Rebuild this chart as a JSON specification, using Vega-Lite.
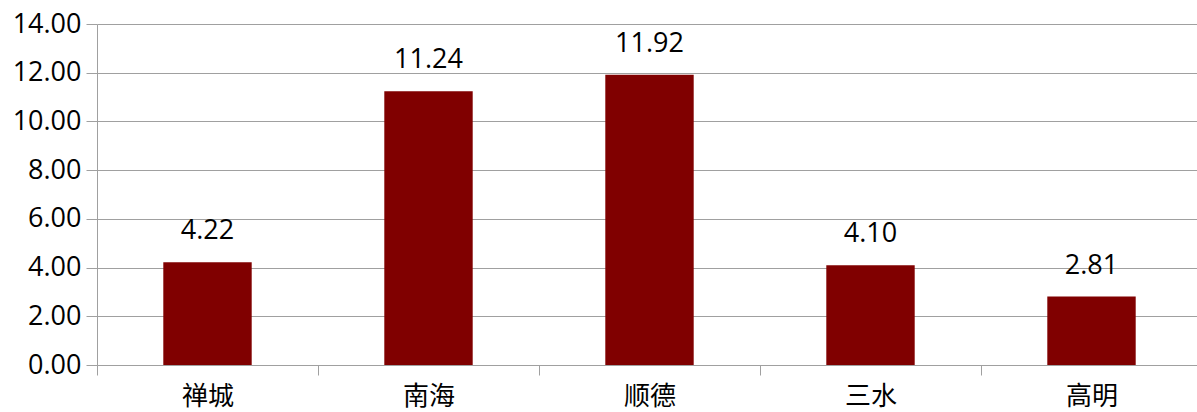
{
  "$schema": "https://vega.github.io/schema/vega-lite/v6.json",
  "autosize": "none",
  "padding": {"left": 97, "top": 24, "right": 0, "bottom": 47},
  "width": 1105,
  "height": 341,
  "background": "white",
  "data": {
    "values": [
      {"区": "禅城", "值": 4.22},
      {"区": "南海", "值": 11.24},
      {"区": "顺德", "值": 11.92},
      {"区": "三水", "值": 4.10},
      {"区": "高明", "值": 2.81}
    ]
  },
  "config": {
    "view": {"stroke": null},
    "axis": {
      "domainColor": "#a0a0a0",
      "tickColor": "#a0a0a0",
      "gridColor": "#a0a0a0",
      "labelColor": "#000000",
      "labelFont": "Open Sans",
      "labelFontSize": 27
    }
  },
  "encoding": {
    "x": {
      "field": "区",
      "type": "nominal",
      "sort": null,
      "scale": {"paddingInner": 0, "paddingOuter": 0},
      "axis": {
        "title": null,
        "labelAngle": 0,
        "tickBand": "extent",
        "tickSize": 10,
        "labelPadding": 8,
        "labelFont": "Noto Sans CJK SC",
        "labelFontSize": 26,
        "grid": false
      }
    },
    "y": {
      "field": "值",
      "type": "quantitative",
      "scale": {"domain": [0, 14]},
      "axis": {
        "title": null,
        "values": [0, 2, 4, 6, 8, 10, 12, 14],
        "format": ".2f",
        "tickSize": 11,
        "labelPadding": 5,
        "grid": true
      }
    }
  },
  "layer": [
    {"mark": {"type": "bar", "color": "#800000", "width": {"band": 0.4}}},
    {
      "mark": {"type": "text", "dy": -17, "baseline": "bottom", "font": "Open Sans", "fontSize": 27, "color": "#000000"},
      "encoding": {"text": {"field": "值", "type": "quantitative", "format": ".2f"}}
    }
  ]
}
